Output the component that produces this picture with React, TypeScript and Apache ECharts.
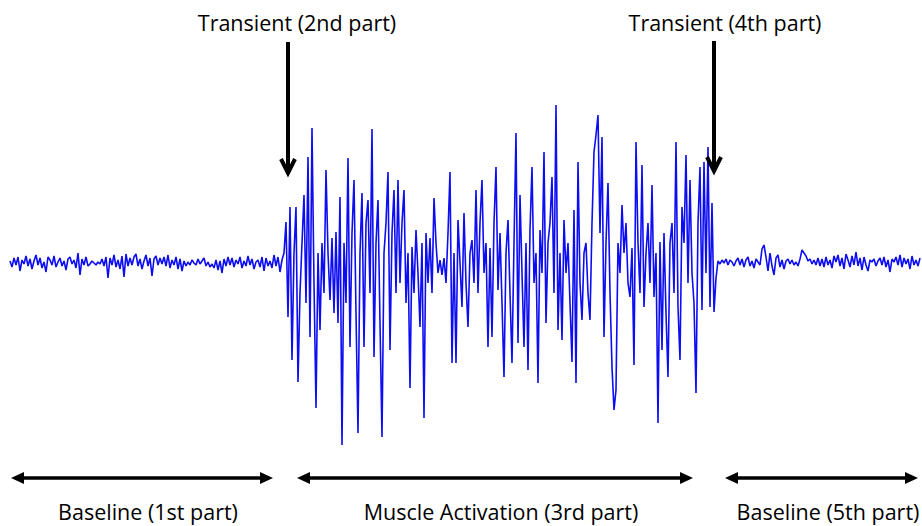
import React, { useEffect, useRef } from "react";
import * as echarts from "echarts";

// Sample spacing (ms) — one value per sample
const SAMPLE_MS = 1;

// Baseline (1st part) amplitude samples
const baseline1: number[] = [
  2, -4, 5, -2, 6, -8, 3, -1, 7, -3,
  4, -6, 2, 8, -2, 5, -5, 1, -9, 6,
  3, -2, 7, -4, 1, 5, -3, 2, -7, 4,
  6, -1, 3, -5, 10, -12, 4, -2, 6, -3,
  -1, 2, 0, -2, 1, -1, 4, -3, 6, -15,
  5, -2, 8, -4, 3, -6, 7, -14, 9, -3,
  5, -2, 6, 9, -3, 4, -6, 2, 8, -3,
  5, -13, 4, 7, -2, 5, -1, 6, -3, 8,
  -5, 3, -2, 6, -6, 4, -8, 2, -3, 1,
  -2, 3, 0, -2, 4, -1, 2, 5, -3, 1,
  -4, -1, -5, 3, -7, 2, -10, 4, -3, 6,
  -2, 5, -4, 3, -1, 6, -5, 2, -3, 7,
  -2, 4, -6, 1, 3, -4, 6, -8, 5, -3,
  2, -5, 8, -3, 6, -9, 3, 10,
];

// Transient (2nd) + Muscle activation (3rd) + Transient (4th) samples
const activation: number[] = [
  41, -54, 56, -97, 10, 56, -119, -30, 20, 68,
  -40, 106, -74, 135, -20, -145, 10, -67, 20, -30,
  93, 10, -37, 25, -50, 31, -60, 66, -182, 20,
  -40, 105, -84, 30, 83, -50, -170, 10, 70, -84,
  40, 63, -30, 134, -94, 20, 63, -60, -174, 10,
  40, 91, -87, 30, 73, -30, 83, -20, 40, 73,
  -40, 10, -125, 16, -30, 33, -10, -64, 20, -155,
  30, -20, 25, -30, 65, 20, -10, 3, -12, 5,
  -20, 30, 91, -100, 10, -100, 43, 0, -44, 50,
  -20, -64, 10, 23, -20, 73, -30, 40, 83, -10,
  20, -84, 15, -74, 40, 96, -27, 30, -40, -114,
  10, 43, -30, -100, 20, 130, -80, 68, -10, -84,
  20, -107, 33, 96, -20, 10, -120, 33, -10, 111,
  -60, 20, 40, 86, -30, 158, -67, 10, -77, 43,
  -10, 20, -40, -99, 53, -120, 101, -20, -57, 10,
  20, -30, -57, 40, 111, 128, 148, 30, 126, -74,
  20, 80, -30, -104, -147, -127, 20, -10, 58, 10,
  40, -20, -34, 15, -102, 121, 20, -30, 98, -44,
  10, 40, -20, 78, -34, 10, -160, 21, -87, 30,
  -50, -114, 20, 40, -30, 121, -44, -97, 56, 20,
  108, -20, 83, -10, -40, -130, 40, 96, -47, 101,
  -10, 116, -44, 60, -49,
];

// Baseline (5th part) amplitude samples
const baseline2: number[] = [
  -15, 2, -1, 3, 0, 4, -2, 3, 1, -3,
  2, 5, -2, 4, -4, 3, 6, -3, 2, -5,
  4, 1, -2, 14, 18, 6, -8, 10, -3, -12,
  5, 8, -4, 3, -6, 2, 4, -1, 3, -2,
  1, -3, 4, 13, 10, 7, 2, 4, -1, 3,
  -2, 5, -3, 4, -4, 6, -2, 3, -5, 7,
  1, 8, -3, 5, -6, 9, 3, -4, 7, -2,
  11, -3, 5, -7, 6, -2, -8, 3, 1, 4,
  -3, 2, 5, -2, 6, -4, 3, -9, 4, 1,
  6, -2, 8, -4, 5, -1, 4, -6, 7, -2,
  3, -3, 5,
];

const topLabels = ["Transient (2nd part)", "Transient (4th part)"];
const bottomLabels = ["Baseline (1st part)", "Muscle Activation (3rd part)", "Baseline (5th part)"];

const W = 922;
const H = 526;
const FONT = "'Open Sans', sans-serif";

export default function App() {
  const ref = useRef<HTMLDivElement>(null);

  useEffect(() => {
    if (!ref.current) return;
    const chart = echarts.init(ref.current, null, { renderer: "svg" });
    const signal = [...baseline1, ...activation, ...baseline2];
    const data = signal.map((v, i) => [i * SAMPLE_MS, v]);

    const textStyle = (x: number, y: number, t: string) => ({
      type: "text",
      x,
      y,
      style: {
        text: t,
        fill: "#000",
        font: `21.5px ${FONT}`,
        align: "center",
        verticalAlign: "middle",
      },
      z: 10,
    });

    const vArrow = (x: number, y1: number, y2: number) => [
      { type: "line", shape: { x1: x, y1, x2: x, y2: y2 - 2 }, style: { stroke: "#000", lineWidth: 4 }, z: 10 },
      {
        type: "polyline",
        shape: { points: [[x - 7, y2 - 14], [x, y2], [x + 7, y2 - 14]] },
        style: { stroke: "#000", lineWidth: 4, fill: null },
        z: 10,
      },
    ];

    const hArrow = (x1: number, x2: number, y: number) => [
      { type: "line", shape: { x1: x1 + 8, y1: y, x2: x2 - 8, y2: y }, style: { stroke: "#000", lineWidth: 3.5 }, z: 10 },
      { type: "polygon", shape: { points: [[x1, y], [x1 + 13, y - 6], [x1 + 13, y + 6]] }, style: { fill: "#000" }, z: 10 },
      { type: "polygon", shape: { points: [[x2, y], [x2 - 13, y - 6], [x2 - 13, y + 6]] }, style: { fill: "#000" }, z: 10 },
    ];

    chart.setOption({
      animation: false,
      backgroundColor: "#ffffff",
      grid: { left: 10, right: 2, top: 0, bottom: 0 },
      xAxis: {
        type: "value",
        min: 0,
        max: (signal.length - 1) * SAMPLE_MS,
        show: false,
      },
      yAxis: {
        type: "value",
        min: -263,
        max: 263,
        show: false,
      },
      series: [
        {
          type: "line",
          data,
          showSymbol: false,
          symbol: "none",
          lineStyle: { color: "#0d0df5", width: 1.6 },
          silent: true,
        },
      ],
      graphic: [
        textStyle(297, 22, topLabels[0]),
        textStyle(725, 22, topLabels[1]),
        textStyle(148, 511, bottomLabels[0]),
        textStyle(501, 511, bottomLabels[1]),
        textStyle(828, 511, bottomLabels[2]),
        ...vArrow(288, 42, 173),
        ...vArrow(714, 41, 171),
        ...hArrow(11, 273, 478),
        ...hArrow(297, 693, 478),
        ...hArrow(725, 918, 478),
      ],
    });
    return () => chart.dispose();
  }, []);

  return (
    <div
      ref={ref}
      style={{ position: "absolute", left: 0, top: 0, width: W, height: H }}
    />
  );
}
